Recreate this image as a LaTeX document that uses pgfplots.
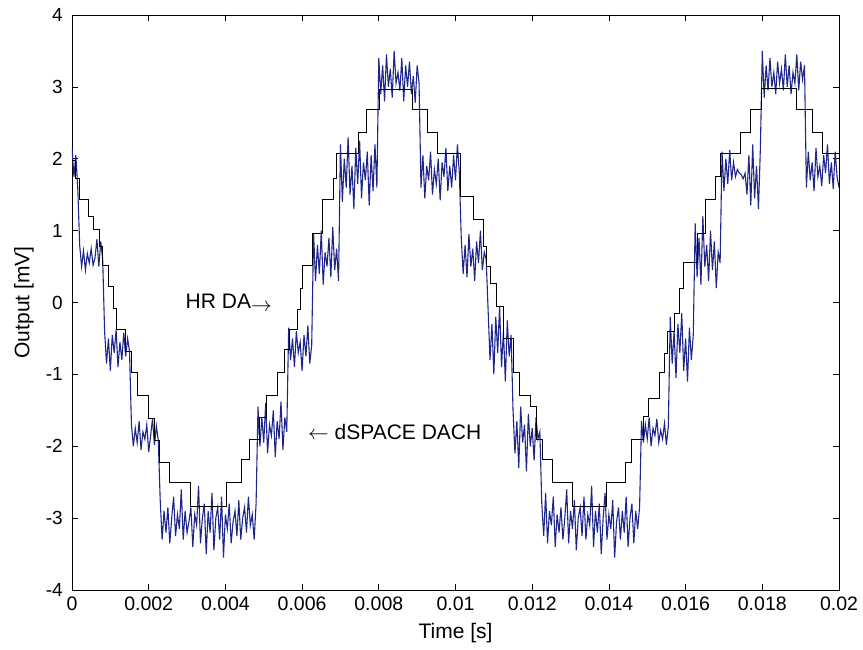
\documentclass[border=0pt]{standalone}
\usepackage{fontspec}
\setmainfont{Liberation Sans}
\usepackage{pgfplots}
\pgfplotsset{compat=1.18}
\usepackage{pgfplotstable}
\definecolor{dblue}{RGB}{30,38,140}

\pgfplotstableread[row sep=\\]{
x y\\
0 2.15\\ 0.00005 1.75\\ 0.0001 2.05\\ 0.00015 1.6\\
0.0002 0.8\\ 0.00025 0.5\\ 0.0003 0.72\\ 0.00035 0.45\\ 0.0004 0.68\\ 0.00045 0.55\\ 0.0005 0.75\\ 0.00055 0.52\\ 0.0006 0.62\\ 0.00065 0.88\\ 0.0007 0.5\\ 0.00075 0.85\\ 0.0008 0.6\\
0.00085 -0.4\\ 0.0009 -0.85\\ 0.00095 -0.5\\ 0.001 -0.95\\ 0.00105 -0.45\\ 0.0011 -0.7\\ 0.00115 -0.38\\ 0.0012 -0.9\\ 0.00125 -0.55\\ 0.0013 -0.8\\ 0.00135 -0.42\\ 0.0014 -0.75\\ 0.00145 -0.5\\ 0.0015 -0.68\\
0.00155 -1.7\\ 0.0016 -2.0\\ 0.00165 -1.75\\ 0.0017 -1.95\\ 0.00175 -1.65\\ 0.0018 -2.05\\ 0.00185 -1.8\\ 0.0019 -1.9\\ 0.00195 -1.7\\ 0.002 -2.08\\ 0.00205 -1.85\\ 0.0021 -1.62\\ 0.00215 -1.98\\ 0.0022 -1.72\\ 0.00225 -1.92\\
0.0023 -2.75\\ 0.00235 -3.3\\ 0.0024 -2.9\\ 0.00245 -3.2\\ 0.0025 -2.85\\ 0.00255 -3.35\\ 0.0026 -3.0\\ 0.00265 -2.7\\ 0.0027 -3.25\\ 0.00275 -2.95\\ 0.0028 -3.15\\ 0.00285 -2.6\\ 0.0029 -3.3\\ 0.00295 -2.9\\ 0.003 -3.2\\ 0.00305 -3.05\\ 0.0031 -2.85\\ 0.00315 -3.4\\ 0.0032 -2.95\\ 0.00325 -3.1\\ 0.0033 -2.55\\ 0.00335 -3.35\\ 0.0034 -3.0\\ 0.00345 -2.8\\ 0.0035 -3.5\\ 0.00355 -2.9\\ 0.0036 -3.2\\ 0.00365 -2.65\\ 0.0037 -3.45\\ 0.00375 -3.0\\ 0.0038 -2.85\\ 0.00385 -3.3\\ 0.0039 -2.7\\ 0.00395 -3.55\\ 0.004 -2.95\\ 0.00405 -3.15\\ 0.0041 -2.8\\ 0.00415 -3.35\\ 0.0042 -3.05\\ 0.00425 -2.9\\ 0.0043 -3.25\\ 0.00435 -2.75\\ 0.0044 -3.3\\ 0.00445 -3.0\\ 0.0045 -2.85\\ 0.00455 -3.2\\ 0.0046 -2.7\\ 0.00465 -3.1\\ 0.0047 -2.95\\ 0.00475 -3.3\\ 0.0048 -2.8\\
0.00485 -1.45\\ 0.0049 -2.0\\ 0.00495 -1.6\\ 0.005 -1.95\\ 0.00505 -1.4\\ 0.0051 -2.1\\ 0.00515 -1.7\\ 0.0052 -1.85\\ 0.00525 -1.5\\ 0.0053 -2.15\\ 0.00535 -1.65\\ 0.0054 -1.9\\ 0.00545 -1.38\\ 0.0055 -2.05\\ 0.00555 -1.6\\ 0.0056 -1.8\\
0.00565 -0.35\\ 0.0057 -0.8\\ 0.00575 -0.5\\ 0.0058 -0.9\\ 0.00585 -0.4\\ 0.0059 -0.7\\ 0.00595 -0.55\\ 0.006 -0.95\\ 0.00605 -0.45\\ 0.0061 -0.75\\ 0.00615 -0.32\\ 0.0062 -0.85\\ 0.00625 -0.6\\
0.0063 0.95\\ 0.00635 0.3\\ 0.0064 0.8\\ 0.00645 0.4\\ 0.0065 1.0\\ 0.00655 0.25\\ 0.0066 0.7\\ 0.00665 0.5\\ 0.0067 0.9\\ 0.00675 0.35\\ 0.0068 1.05\\ 0.00685 0.45\\ 0.0069 0.75\\ 0.00695 0.3\\
0.007 2.2\\ 0.00705 1.4\\ 0.0071 2.0\\ 0.00715 1.6\\ 0.0072 2.3\\ 0.00725 1.5\\ 0.0073 1.9\\ 0.00735 1.3\\ 0.0074 2.15\\ 0.00745 1.65\\ 0.0075 2.25\\ 0.00755 1.45\\ 0.0076 1.95\\ 0.00765 1.7\\ 0.0077 2.1\\ 0.00775 1.35\\ 0.0078 2.05\\ 0.00785 1.55\\ 0.0079 2.2\\ 0.00795 1.6\\
0.008 3.4\\ 0.00805 2.9\\ 0.0081 3.3\\ 0.00815 2.8\\ 0.0082 3.45\\ 0.00825 3.0\\ 0.0083 3.25\\ 0.00835 2.85\\ 0.0084 3.5\\ 0.00845 3.05\\ 0.0085 3.2\\ 0.00855 2.95\\ 0.0086 3.4\\ 0.00865 2.8\\ 0.0087 3.3\\ 0.00875 3.0\\ 0.0088 3.35\\ 0.00885 2.9\\ 0.0089 3.15\\ 0.00895 2.78\\ 0.009 3.3\\ 0.00905 3.05\\
0.0091 1.6\\ 0.00915 2.05\\ 0.0092 1.45\\ 0.00925 1.9\\ 0.0093 1.7\\ 0.00935 2.1\\ 0.0094 1.5\\ 0.00945 1.85\\ 0.0095 1.65\\ 0.00955 2.0\\ 0.0096 1.42\\ 0.00965 1.95\\ 0.0097 1.75\\ 0.00975 2.15\\ 0.0098 1.55\\ 0.00985 1.9\\ 0.0099 1.6\\ 0.00995 2.05\\ 0.01 1.7\\ 0.01005 2.2\\ 0.0101 1.8\\
0.01015 0.9\\ 0.0102 0.4\\ 0.01025 0.8\\ 0.0103 0.35\\ 0.01035 0.95\\ 0.0104 0.5\\ 0.01045 0.75\\ 0.0105 0.3\\ 0.01055 0.85\\ 0.0106 0.55\\ 0.01065 1.0\\ 0.0107 0.45\\ 0.01075 0.7\\ 0.0108 0.6\\
0.01085 -0.1\\ 0.0109 -0.8\\ 0.01095 -0.3\\ 0.011 -1.0\\ 0.01105 -0.2\\ 0.0111 -0.7\\ 0.01115 -0.05\\ 0.0112 -0.9\\ 0.01125 -0.4\\ 0.0113 -1.1\\ 0.01135 -0.25\\ 0.0114 -0.75\\ 0.01145 -0.45\\
0.0115 -1.5\\ 0.01155 -2.1\\ 0.0116 -1.65\\ 0.01165 -2.3\\ 0.0117 -1.45\\ 0.01175 -1.95\\ 0.0118 -1.7\\ 0.01185 -2.35\\ 0.0119 -1.55\\ 0.01195 -2.0\\ 0.012 -1.75\\ 0.01205 -2.2\\ 0.0121 -1.6\\ 0.01215 -1.9\\ 0.0122 -1.8\\
0.01225 -2.8\\ 0.0123 -3.25\\ 0.01235 -2.65\\ 0.0124 -3.35\\ 0.01245 -2.9\\ 0.0125 -3.1\\ 0.01255 -2.7\\ 0.0126 -3.4\\ 0.01265 -2.95\\ 0.0127 -3.2\\ 0.01275 -2.85\\ 0.0128 -3.3\\ 0.01285 -3.0\\ 0.0129 -2.6\\ 0.01295 -3.35\\ 0.013 -2.9\\ 0.01305 -3.15\\ 0.0131 -2.75\\ 0.01315 -3.45\\ 0.0132 -3.0\\ 0.01325 -2.85\\ 0.0133 -3.25\\ 0.01335 -2.7\\ 0.0134 -3.3\\ 0.01345 -2.95\\ 0.0135 -3.1\\ 0.01355 -2.55\\ 0.0136 -3.4\\ 0.01365 -2.9\\ 0.0137 -3.2\\ 0.01375 -2.8\\ 0.0138 -3.5\\ 0.01385 -3.0\\ 0.0139 -2.65\\ 0.01395 -3.3\\ 0.014 -2.95\\ 0.01405 -3.15\\ 0.0141 -2.75\\ 0.01415 -3.55\\ 0.0142 -3.05\\ 0.01425 -2.85\\ 0.0143 -3.3\\ 0.01435 -2.9\\ 0.0144 -3.2\\ 0.01445 -2.7\\ 0.0145 -3.4\\ 0.01455 -3.0\\ 0.0146 -2.8\\ 0.01465 -3.35\\ 0.0147 -2.9\\ 0.01475 -3.15\\ 0.0148 -2.85\\
0.01485 -1.65\\ 0.0149 -1.95\\ 0.01495 -1.7\\ 0.015 -1.9\\ 0.01505 -1.6\\ 0.0151 -2.0\\ 0.01515 -1.75\\ 0.0152 -1.85\\ 0.01525 -1.62\\ 0.0153 -1.95\\ 0.01535 -1.78\\ 0.0154 -1.9\\ 0.01545 -1.68\\ 0.0155 -1.98\\ 0.01555 -1.72\\
0.0156 -0.2\\ 0.01565 -0.85\\ 0.0157 -0.4\\ 0.01575 -1.05\\ 0.0158 -0.3\\ 0.01585 -0.7\\ 0.0159 -0.15\\ 0.01595 -0.95\\ 0.016 -0.5\\ 0.01605 -1.1\\ 0.0161 -0.35\\ 0.01615 -0.8\\ 0.0162 -0.45\\
0.01625 1.1\\ 0.0163 0.35\\ 0.01635 0.9\\ 0.0164 0.25\\ 0.01645 1.2\\ 0.0165 0.5\\ 0.01655 0.8\\ 0.0166 0.3\\ 0.01665 1.0\\ 0.0167 0.45\\ 0.01675 0.85\\ 0.0168 0.2\\ 0.01685 0.7\\ 0.0169 0.55\\
0.01695 2.1\\ 0.017 1.55\\ 0.01705 2.0\\ 0.0171 1.65\\ 0.01715 2.12\\ 0.0172 1.7\\ 0.01725 1.95\\ 0.0173 1.75\\ 0.01735 1.85\\ 0.0174 1.8\\ 0.01745 1.78\\ 0.0175 1.72\\ 0.01755 1.8\\ 0.0176 1.5\\ 0.01765 2.05\\ 0.0177 1.35\\ 0.01775 2.2\\ 0.0178 1.45\\ 0.01785 1.9\\ 0.0179 1.3\\ 0.01795 2.15\\
0.018 3.5\\ 0.01805 2.85\\ 0.0181 3.3\\ 0.01815 2.95\\ 0.0182 3.4\\ 0.01825 3.0\\ 0.0183 3.2\\ 0.01835 2.9\\ 0.0184 3.35\\ 0.01845 3.05\\ 0.0185 3.25\\ 0.01855 2.95\\ 0.0186 3.45\\ 0.01865 3.0\\ 0.0187 3.3\\ 0.01875 2.9\\ 0.0188 3.2\\ 0.01885 3.05\\ 0.0189 3.45\\ 0.01895 2.95\\ 0.019 3.35\\ 0.01905 3.1\\ 0.0191 3.3\\
0.01915 1.6\\ 0.0192 2.1\\ 0.01925 1.7\\ 0.0193 1.95\\ 0.01935 1.55\\ 0.0194 2.15\\ 0.01945 1.75\\ 0.0195 1.9\\ 0.01955 1.62\\ 0.0196 2.05\\ 0.01965 1.8\\ 0.0197 2.2\\ 0.01975 1.65\\ 0.0198 1.95\\ 0.01985 1.58\\ 0.0199 2.1\\ 0.01995 1.75\\ 0.02 1.6\\
}\bluedata

\begin{document}
\begin{tikzpicture}[x=1pt,y=1pt]
\useasboundingbox (0,0) rectangle (863,650);
\begin{axis}[
  at={(72pt,60pt)}, anchor=south west,
  scale only axis, width=767pt, height=575pt,
  xmin=0, xmax=0.02, ymin=-4, ymax=4,
  xtick={0,0.002,0.004,0.006,0.008,0.01,0.012,0.014,0.016,0.018,0.02},
  xticklabels={0,0.002,0.004,0.006,0.008,0.01,0.012,0.014,0.016,0.018,0.02},
  ytick={-4,-3,-2,-1,0,1,2,3,4},
  yticklabels={-4,-3,-2,-1,0,1,2,3,4},
  scaled x ticks=false,
  tick align=inside, major tick length=6pt,
  tick style={black, line width=0.7pt},
  axis line style={black, line width=0.8pt},
  xticklabel style={font=\fontsize{19.5}{23}\selectfont, inner sep=0pt, yshift=-7pt},
  yticklabel style={font=\fontsize{19}{23}\selectfont, inner sep=0pt, xshift=-9pt},
  xlabel={Time [s]}, ylabel={Output [mV]},
  xlabel style={font=\fontsize{21}{24}\selectfont, at={(axis description cs:0.5,-0.075)}, anchor=center},
  ylabel style={font=\fontsize{21}{24}\selectfont, at={(axis description cs:-0.0626,0.5)}, anchor=center},
  clip=true,
]
\addplot[dblue, line width=1.1pt] table[x=x, y=y] {\bluedata};
\addplot[black, line width=1pt, const plot] coordinates {
(0,1.98) (0.0001,1.72) (0.0002,1.43) (0.00042,1.2) (0.00055,1.02) (0.00072,0.78) (0.0008,0.52) (0.00095,0.22) (0.00108,-0.08) (0.00117,-0.38) (0.0014,-0.68) (0.00155,-0.98) (0.0017,-1.3) (0.002,-1.62) (0.00215,-1.92) (0.00229,-2.22) (0.00255,-2.51) (0.0031,-2.84) (0.00404,-2.5) (0.00443,-2.19) (0.00464,-1.91) (0.0049,-1.6) (0.00508,-1.29) (0.00535,-0.98) (0.00555,-0.66) (0.00568,-0.38) (0.00587,-0.1) (0.00595,0.2) (0.006,0.52) (0.00628,0.96) (0.00654,1.43) (0.00681,1.72) (0.00691,2.07) (0.00746,2.36) (0.00769,2.68) (0.00803,2.96) (0.00889,2.68) (0.00928,2.36) (0.00952,2.07) (0.01012,1.47) (0.01046,1.15) (0.01072,0.78) (0.01082,0.5) (0.0109,0.27) (0.01108,-0.06) (0.01125,-0.5) (0.0115,-0.98) (0.01168,-1.29) (0.01195,-1.45) (0.0121,-1.91) (0.01228,-2.19) (0.01254,-2.51) (0.01306,-2.84) (0.01395,-2.51) (0.01442,-2.22) (0.0146,-1.91) (0.01489,-1.59) (0.01502,-1.33) (0.01533,-0.98) (0.01546,-0.71) (0.01554,-0.41) (0.01572,-0.15) (0.01585,0.2) (0.01595,0.55) (0.0163,0.96) (0.01651,1.43) (0.01677,1.75) (0.0169,2.07) (0.01742,2.36) (0.01768,2.68) (0.01799,2.98) (0.0189,2.68) (0.0193,2.36) (0.01956,2.07) (0.02,2.07)
};
\node[anchor=west, inner sep=0pt, font=\fontsize{21}{24}\selectfont] at (axis cs:0.00296,0.0) {HR DA\raisebox{-3pt}{$\rightarrow$}};
\node[anchor=west, inner sep=0pt, font=\fontsize{21}{24}\selectfont] at (axis cs:0.00615,-1.8) {$\leftarrow$ dSPACE DACH};
\end{axis}
\end{tikzpicture}
\end{document}
